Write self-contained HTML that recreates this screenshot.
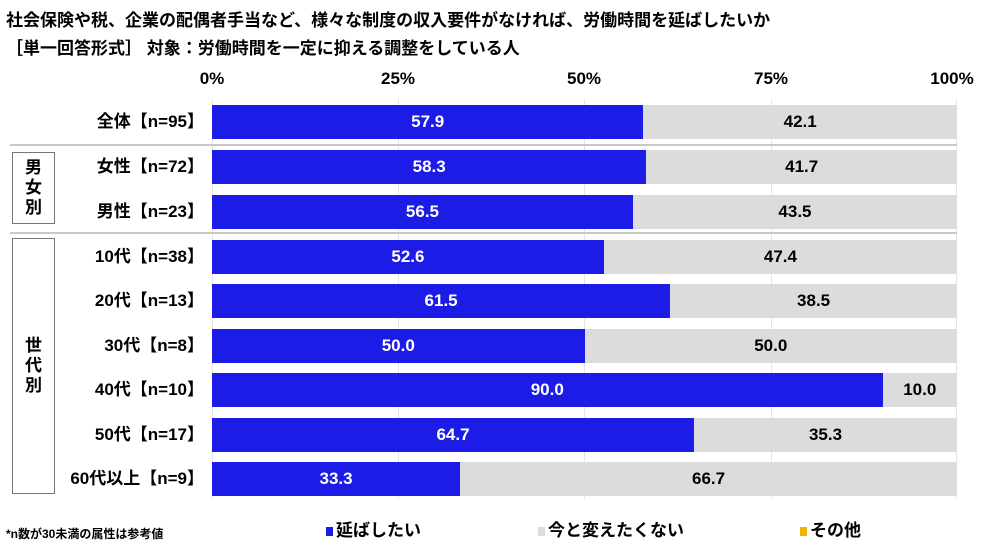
<!DOCTYPE html>
<html><head><meta charset="utf-8"><style>
body{margin:0;width:1000px;height:549px;background:#fff;font-family:"Liberation Sans","Noto Sans CJK JP",sans-serif;font-weight:bold;position:relative;overflow:hidden;color:#000}
.a{position:absolute;white-space:nowrap}
.bar{position:absolute;height:34px}
.b{background:#1c1ce6;color:#fff}
.g{background:#dcdcdc}
.v{position:absolute;font-size:17px;line-height:34px;text-align:center}
.lbl{position:absolute;right:796px;font-size:17px;line-height:34px;text-align:right;white-space:nowrap}
.tick{position:absolute;top:69px;font-size:17px;width:60px;text-align:center;margin-left:-30px}
.grid{position:absolute;top:99px;height:400px;width:1px;background:#e4e4e4}
.sep{position:absolute;left:10px;width:947px;height:2px;background:#c8c8c8}
.box{position:absolute;border:1.5px solid #777;font-size:17px;text-align:center;line-height:20px;display:flex;align-items:center;justify-content:center}
</style></head><body>
<div class="a" style="left:6px;top:6px;font-size:17px">社会保険や税、企業の配偶者手当など、様々な制度の収入要件がなければ、労働時間を延ばしたいか</div>
<div class="a" style="left:6px;top:34px;font-size:17px">［単一回答形式］ 対象：労働時間を一定に抑える調整をしている人</div>
<div class="tick" style="left:212px">0%</div>
<div class="tick" style="left:398px">25%</div>
<div class="tick" style="left:584px">50%</div>
<div class="tick" style="left:771px">75%</div>
<div class="tick" style="left:952px">100%</div>
<div class="grid" style="left:212px"></div>
<div class="grid" style="left:398px"></div>
<div class="grid" style="left:584px"></div>
<div class="grid" style="left:771px"></div>
<div class="grid" style="left:956px"></div>
<div class="sep" style="top:144px"></div>
<div class="sep" style="top:232px"></div>
<div class="box" style="left:12px;top:152px;width:41px;height:70px">男<br>女<br>別</div>
<div class="box" style="left:12px;top:238px;width:41px;height:254px">世<br>代<br>別</div>
<div id="rows"></div>
<div class="a" style="left:6px;top:525px;font-size:12px">*n数が30未満の属性は参考値</div>
<div class="a" style="left:326px;top:516px;font-size:17px"><span style="display:inline-block;width:7px;height:9px;background:#1c1ce6;margin-right:3px"></span>延ばしたい</div>
<div class="a" style="left:538px;top:516px;font-size:17px"><span style="display:inline-block;width:7px;height:9px;background:#dcdcdc;margin-right:3px"></span>今と変えたくない</div>
<div class="a" style="left:800px;top:516px;font-size:17px"><span style="display:inline-block;width:7px;height:9px;background:#f0b400;margin-right:3px"></span>その他</div>
<script>
var d=[["全体【n=95】",57.9,42.1],["女性【n=72】",58.3,41.7],["男性【n=23】",56.5,43.5],["10代【n=38】",52.6,47.4],["20代【n=13】",61.5,38.5],["30代【n=8】",50.0,50.0],["40代【n=10】",90.0,10.0],["50代【n=17】",64.7,35.3],["60代以上【n=9】",33.3,66.7]];
var tops=[105,150,195,240,284,329,373,418,462],h="";
d.forEach(function(r,i){var t=tops[i],w1=r[1]*7.45,w2=r[2]*7.45;
h+='<div class="lbl" style="top:'+t+'px">'+r[0]+'</div>';
h+='<div class="bar b v" style="left:212px;top:'+t+'px;width:'+w1+'px">'+r[1].toFixed(1)+'</div>';
h+='<div class="bar g v" style="left:'+(212+w1)+'px;top:'+t+'px;width:'+w2+'px">'+r[2].toFixed(1)+'</div>';});
document.getElementById("rows").innerHTML=h;
</script>
</body></html>
